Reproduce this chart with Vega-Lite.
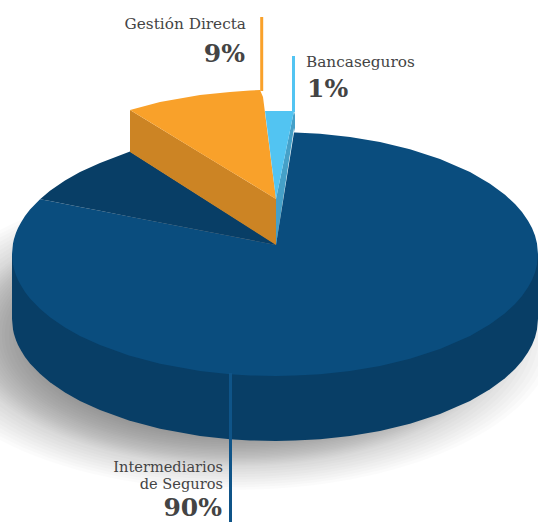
{
"$schema":"https://vega.github.io/schema/vega-lite/v6.json",
"width":538,"height":522,"padding":0,"autosize":{"type":"none"},
"background":"white",
"config":{"view":{"stroke":null}},
"datasets":{
"shadow":[{"x":235,"y":335,"extent":1.0},{"x":235,"y":335,"extent":0.983},{"x":235,"y":335,"extent":0.967},{"x":235,"y":335,"extent":0.95},{"x":235,"y":335,"extent":0.933},{"x":235,"y":335,"extent":0.917},{"x":235,"y":335,"extent":0.9},{"x":235,"y":335,"extent":0.883},{"x":235,"y":335,"extent":0.867},{"x":235,"y":335,"extent":0.85},{"x":235,"y":335,"extent":0.841},{"x":235,"y":335,"extent":0.832},{"x":235,"y":335,"extent":0.822},{"x":235,"y":335,"extent":0.813},{"x":235,"y":335,"extent":0.804},{"x":235,"y":335,"extent":0.795},{"x":235,"y":335,"extent":0.785},{"x":235,"y":335,"extent":0.776},{"x":235,"y":335,"extent":0.767},{"x":235,"y":335,"extent":0.757},{"x":235,"y":335,"extent":0.748},{"x":235,"y":335,"extent":0.739},{"x":235,"y":335,"extent":0.729},{"x":235,"y":335,"extent":0.72},{"x":235,"y":335,"extent":0.707},{"x":235,"y":335,"extent":0.695},{"x":235,"y":335,"extent":0.682},{"x":235,"y":335,"extent":0.67},{"x":235,"y":335,"extent":0.657},{"x":235,"y":335,"extent":0.645},{"x":235,"y":335,"extent":0.632},{"x":235,"y":335,"extent":0.62}],
"shapes":[
{"part":"cuerpo","x":12,"y":254,"y2":319},{"part":"cuerpo","x":13,"y":254,"y2":329.6},{"part":"cuerpo","x":14,"y":254,"y2":334},{"part":"cuerpo","x":16,"y":254,"y2":340.2},{"part":"cuerpo","x":18,"y":254,"y2":344.9},{"part":"cuerpo","x":21,"y":254,"y2":350.6},{"part":"cuerpo","x":25,"y":254,"y2":356.9},{"part":"cuerpo","x":30,"y":254,"y2":363.4},{"part":"cuerpo","x":40,"y":254,"y2":373.8},{"part":"cuerpo","x":50,"y":254,"y2":382.2},{"part":"cuerpo","x":65,"y":254,"y2":392.4},{"part":"cuerpo","x":80,"y":254,"y2":400.9},{"part":"cuerpo","x":100,"y":254,"y2":410.1},{"part":"cuerpo","x":129,"y":254,"y2":420.5},{"part":"cuerpo","x":160,"y":254,"y2":428.7},{"part":"cuerpo","x":200,"y":254,"y2":435.9},{"part":"cuerpo","x":230,"y":254,"y2":439.2},{"part":"cuerpo","x":250,"y":254,"y2":440.4},{"part":"cuerpo","x":276,"y":254,"y2":441},{"part":"cuerpo","x":295,"y":254,"y2":440.6},{"part":"cuerpo","x":320,"y":254,"y2":439.2},{"part":"cuerpo","x":350,"y":254,"y2":435.9},{"part":"cuerpo","x":380,"y":254,"y2":430.9},{"part":"cuerpo","x":410,"y":254,"y2":423.7},{"part":"cuerpo","x":440,"y":254,"y2":414},{"part":"cuerpo","x":470,"y":254,"y2":400.9},{"part":"cuerpo","x":490,"y":254,"y2":389.3},{"part":"cuerpo","x":505,"y":254,"y2":378.2},{"part":"cuerpo","x":515,"y":254,"y2":368.9},{"part":"cuerpo","x":522,"y":254,"y2":360.9},{"part":"cuerpo","x":528,"y":254,"y2":352.3},{"part":"cuerpo","x":532,"y":254,"y2":344.9},{"part":"cuerpo","x":535,"y":254,"y2":337.4},{"part":"cuerpo","x":537,"y":254,"y2":329.6},{"part":"cuerpo","x":538,"y":254,"y2":319},
{"part":"superficie","x":12,"y":254,"y2":254},{"part":"superficie","x":13,"y":243.4,"y2":264.6},{"part":"superficie","x":14,"y":239,"y2":269},{"part":"superficie","x":16,"y":232.8,"y2":275.2},{"part":"superficie","x":18,"y":228.1,"y2":279.9},{"part":"superficie","x":21,"y":222.4,"y2":285.6},{"part":"superficie","x":25,"y":216.1,"y2":291.9},{"part":"superficie","x":30,"y":209.6,"y2":298.4},{"part":"superficie","x":40,"y":199.2,"y2":308.8},{"part":"superficie","x":50,"y":201.1,"y2":317.2},{"part":"superficie","x":65,"y":204.1,"y2":327.4},{"part":"superficie","x":80,"y":207,"y2":335.9},{"part":"superficie","x":100,"y":210.8,"y2":345.1},{"part":"superficie","x":129,"y":216.5,"y2":355.5},{"part":"superficie","x":160,"y":222.5,"y2":363.7},{"part":"superficie","x":200,"y":230.2,"y2":370.9},{"part":"superficie","x":230,"y":236,"y2":374.2},{"part":"superficie","x":250,"y":239.9,"y2":375.4},{"part":"superficie","x":276,"y":245,"y2":376},{"part":"superficie","x":294,"y":132.6,"y2":375.6},{"part":"superficie","x":295,"y":132.4,"y2":375.6},{"part":"superficie","x":320,"y":133.8,"y2":374.2},{"part":"superficie","x":350,"y":137.1,"y2":370.9},{"part":"superficie","x":380,"y":142.1,"y2":365.9},{"part":"superficie","x":410,"y":149.3,"y2":358.7},{"part":"superficie","x":440,"y":159,"y2":349},{"part":"superficie","x":470,"y":172.1,"y2":335.9},{"part":"superficie","x":490,"y":183.7,"y2":324.3},{"part":"superficie","x":505,"y":194.8,"y2":313.2},{"part":"superficie","x":515,"y":204.1,"y2":303.9},{"part":"superficie","x":522,"y":212.1,"y2":295.9},{"part":"superficie","x":528,"y":220.7,"y2":287.3},{"part":"superficie","x":532,"y":228.1,"y2":279.9},{"part":"superficie","x":535,"y":235.6,"y2":272.4},{"part":"superficie","x":537,"y":243.4,"y2":264.6},{"part":"superficie","x":538,"y":254,"y2":254},
{"part":"corte","x":40,"y":199.2,"y2":199.2},{"part":"corte","x":50,"y":190.8,"y2":201.1},{"part":"corte","x":65,"y":180.6,"y2":204.1},{"part":"corte","x":80,"y":172.1,"y2":207},{"part":"corte","x":100,"y":162.9,"y2":210.8},{"part":"corte","x":130,"y":151.5,"y2":216.7},{"part":"corte","x":276,"y":244.5,"y2":245},
{"part":"directa lateral","x":130,"y":110,"y2":152},{"part":"directa lateral","x":276,"y":199,"y2":245},
{"part":"directa superficie","x":130,"y":110,"y2":110},{"part":"directa superficie","x":160,"y":102,"y2":128.3},{"part":"directa superficie","x":200,"y":95,"y2":152.7},{"part":"directa superficie","x":230,"y":92,"y2":171},{"part":"directa superficie","x":250,"y":90.6,"y2":183.1},{"part":"directa superficie","x":260,"y":90,"y2":189.3},{"part":"directa superficie","x":263,"y":97,"y2":191.1},{"part":"directa superficie","x":276,"y":199,"y2":199},
{"part":"banca lateral","x":276,"y":199,"y2":245},{"part":"banca lateral","x":294,"y":111,"y2":128},{"part":"banca lateral","x":295,"y":115,"y2":132},
{"part":"banca superficie","x":265,"y":111,"y2":111},{"part":"banca superficie","x":276,"y":111,"y2":199},{"part":"banca superficie","x":294,"y":111,"y2":111}
],
"leaders":[
{"part":"Gestión Directa","x":261.7,"y":17,"y2":91},
{"part":"Bancaseguros","x":293.5,"y":56,"y2":112},
{"part":"Intermediarios de Seguros","x":230.5,"y":373,"y2":522}
],
"namesRight":[
{"name":"Gestión Directa","x":246,"y":29,"size":15.3},
{"name":"Intermediarios","x":223,"y":472,"size":14.6},
{"name":"de Seguros","x":223,"y":489,"size":14.6}
],
"namesLeft":[{"name":"Bancaseguros","x":306,"y":67,"size":15.3}],
"sharesRight":[
{"share":0.09,"x":245,"y":62},
{"share":0.90,"x":222,"y":516}
],
"sharesLeft":[{"share":0.01,"x":307,"y":97}]
},
"encoding":{
"x":{"field":"x","type":"quantitative","axis":null,"scale":{"domain":[0,538],"nice":false,"zero":false}},
"y":{"field":"y","type":"quantitative","axis":null,"scale":{"domain":[522,0],"nice":false,"zero":false}}
},
"layer":[
{"data":{"name":"shadow"},
 "mark":{"type":"point","filled":true,"clip":true,"color":"#000000","opacity":0.017,"shape":"M -1 0 A 1 0.484 0 1 0 1 0 A 1 0.484 0 1 0 -1 0 Z"},
 "encoding":{"size":{"field":"extent","type":"quantitative","legend":null,"scale":{"type":"pow","exponent":2,"domain":[0,1],"range":[0,409600]}}}},
{"data":{"name":"shapes"},
 "mark":{"type":"area","interpolate":"linear","clip":true},
 "encoding":{"y2":{"field":"y2"},
  "color":{"field":"part","type":"nominal","legend":null,"scale":{"domain":["cuerpo","superficie","corte","directa lateral","directa superficie","banca lateral","banca superficie"],"range":["#083e66","#0a4d7e","#083e66","#cc8424","#f9a12a","#45a0c8","#52c4f2"]}}}},
{"data":{"name":"leaders"},
 "transform":[{"filter":"datum.part === 'Gestión Directa'"}],
 "mark":{"type":"rule","strokeWidth":3,"color":"#f9a12a"},"encoding":{"y2":{"field":"y2"}}},
{"data":{"name":"leaders"},
 "transform":[{"filter":"datum.part === 'Bancaseguros'"}],
 "mark":{"type":"rule","strokeWidth":3,"color":"#52c4f2"},"encoding":{"y2":{"field":"y2"}}},
{"data":{"name":"leaders"},
 "transform":[{"filter":"datum.part === 'Intermediarios de Seguros'"}],
 "mark":{"type":"rule","strokeWidth":3,"color":"#0f5488"},"encoding":{"y2":{"field":"y2"}}},
{"data":{"name":"namesRight"},
 "transform":[{"filter":"datum.size > 15"}],
 "mark":{"type":"text","align":"right","baseline":"alphabetic","font":"DejaVu Serif","fontSize":15.3,"color":"#444444"},
 "encoding":{"text":{"field":"name"}}},
{"data":{"name":"namesRight"},
 "transform":[{"filter":"datum.size < 15"}],
 "mark":{"type":"text","align":"right","baseline":"alphabetic","font":"DejaVu Serif","fontSize":14.6,"color":"#444444"},
 "encoding":{"text":{"field":"name"}}},
{"data":{"name":"namesLeft"},
 "mark":{"type":"text","align":"left","baseline":"alphabetic","font":"DejaVu Serif","fontSize":15.3,"color":"#444444"},
 "encoding":{"text":{"field":"name"}}},
{"data":{"name":"sharesRight"},
 "mark":{"type":"text","align":"right","baseline":"alphabetic","font":"DejaVu Serif","fontWeight":"bold","fontSize":25,"color":"#444444"},
 "encoding":{"text":{"field":"share","type":"quantitative","format":".0%"}}},
{"data":{"name":"sharesLeft"},
 "mark":{"type":"text","align":"left","baseline":"alphabetic","font":"DejaVu Serif","fontWeight":"bold","fontSize":25,"color":"#444444"},
 "encoding":{"text":{"field":"share","type":"quantitative","format":".0%"}}}
]
}
